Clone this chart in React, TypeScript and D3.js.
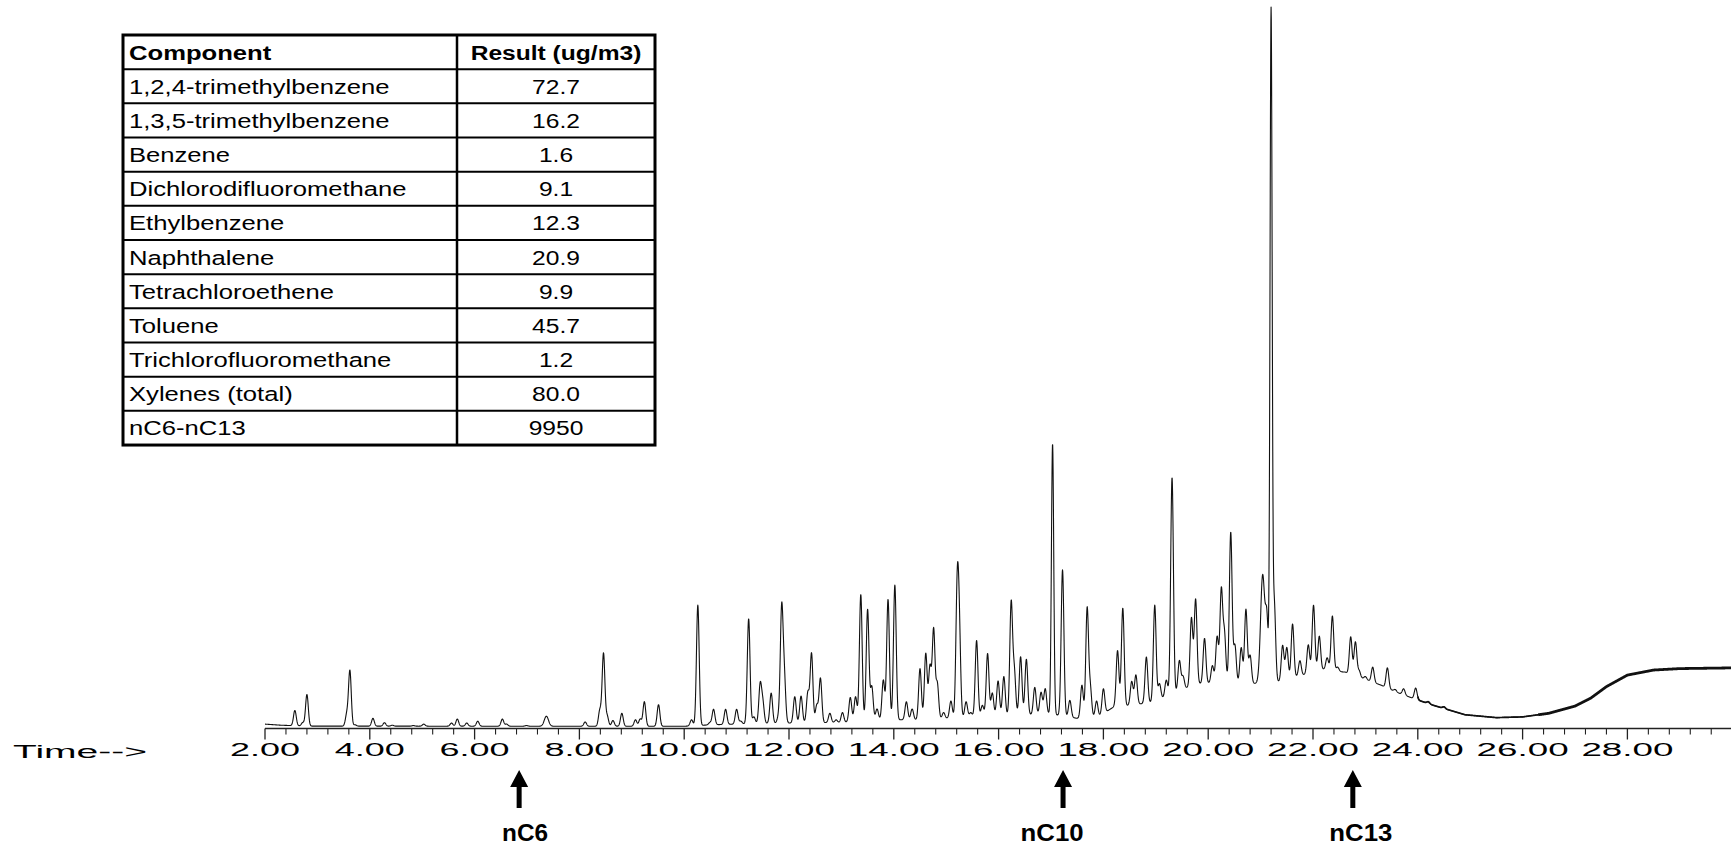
import React from 'react';
import * as d3 from 'd3';

// ---------- table data ----------
const tableHeader = ['Component', 'Result (ug/m3)'];
const components = [
  '1,2,4-trimethylbenzene',
  '1,3,5-trimethylbenzene',
  'Benzene',
  'Dichlorodifluoromethane',
  'Ethylbenzene',
  'Naphthalene',
  'Tetrachloroethene',
  'Toluene',
  'Trichlorofluoromethane',
  'Xylenes (total)',
  'nC6-nC13',
];
const results = ['72.7', '16.2', '1.6', '9.1', '12.3', '20.9', '9.9', '45.7', '1.2', '80.0', '9950'];

// ---------- axis ----------
const timeDomain = [2, 30];
const tickLabels = [2, 4, 6, 8, 10, 12, 14, 16, 18, 20, 22, 24, 26, 28];
const axisTitle = 'Time-->';

// ---------- alkane markers ----------
const markerLabels = ['nC6', 'nC10', 'nC13'];
const markerTimes = [6.85, 17.23, 22.76];

// ---------- chromatogram: background (time, abundance %) ----------
const baselineTimes = [2.0, 2.3, 2.8, 10.0, 10.5, 11.5, 12.5, 13.0, 13.5, 14.5, 15.0, 16.0, 17.0, 17.5, 17.9, 18.2, 18.5, 18.9, 19.2, 19.5, 19.8, 20.3, 20.8, 21.3, 21.7, 22.2, 22.6, 23.0, 23.3, 23.6, 23.9, 24.3, 24.9, 25.5, 26.0, 26.5, 27.0, 27.3, 27.6, 28.0, 28.5, 29.0, 30.0];
const baselineLevels = [0.4, 0.25, 0.12, 0.1, 0.3, 0.5, 0.6, 0.6, 1.0, 1.0, 1.2, 1.6, 1.8, 1.2, 1.4, 2.8, 3.0, 3.4, 4.2, 5.2, 6.0, 6.2, 6.0, 6.2, 7.0, 8.0, 7.6, 6.6, 5.8, 4.8, 4.0, 3.0, 1.7, 1.3, 1.4, 1.9, 2.9, 4.0, 5.6, 7.2, 7.9, 8.1, 8.2];

// ---------- chromatogram: peaks [time (min), apex abundance %, sigma (min)?] ----------
const earlyPeaks: number[][] = [
  [2.57, 2.3], [2.72, 0.6], [2.80, 4.5], [3.56, 1.7], [3.62, 7.8], [3.72, 0.3], [4.06, 1.2],
  [4.28, 0.6], [4.43, 0.25], [4.83, 0.2], [5.03, 0.4], [5.56, 0.55], [5.67, 1.1], [5.85, 0.55],
  [6.06, 0.8], [6.53, 1.1], [6.61, 0.4], [6.99, 0.2], [7.37, 1.5, 0.04], [8.11, 0.7], [8.39, 2.3],
  [8.46, 10.2], [8.53, 1.5], [8.64, 0.9], [8.81, 1.9], [9.07, 1.0], [9.16, 1.1], [9.24, 3.5], [9.51, 3.1],
];
const midPeaks: number[][] = [
  [10.14, 1.0], [10.26, 16.9], [10.49, 0.6], [10.56, 2.45], [10.79, 2.45], [11.00, 2.45], [11.08, 0.8],
  [11.23, 15.0], [11.33, 1.4], [11.45, 5.8], [11.50, 3.3], [11.66, 4.7], [11.80, 1.4], [11.86, 16.2],
  [11.91, 6.75], [12.11, 4.2], [12.23, 4.3], [12.36, 4.75], [12.43, 10.2], [12.53, 3.0], [12.60, 6.75],
  [12.78, 1.9], [12.90, 1.0], [13.02, 2.0], [13.17, 4.1], [13.27, 4.2], [13.37, 18.4], [13.50, 16.3],
  [13.58, 5.6], [13.68, 2.5], [13.80, 6.5], [13.89, 17.7], [14.02, 19.7], [14.24, 3.5], [14.35, 2.5],
  [14.50, 8.1], [14.61, 10.2], [14.69, 8.3], [14.76, 13.5], [14.83, 6.0], [14.95, 2.0], [15.09, 3.6],
  [15.21, 18.4], [15.25, 12.5], [15.38, 3.5], [15.47, 2.0], [15.58, 12.0], [15.69, 3.0], [15.79, 10.2],
  [15.88, 4.7], [15.99, 6.4], [16.10, 7.0], [16.24, 17.2], [16.30, 7.6], [16.42, 9.75], [16.53, 9.4],
  [16.69, 5.5], [16.81, 4.8], [16.89, 5.3], [17.03, 39.3, 0.022], [17.22, 21.8], [17.36, 3.7],
  [17.59, 5.8], [17.69, 16.4], [17.75, 5.3], [17.87, 3.6],
];
const latePeaks: number[][] = [
  [18.00, 5.3], [18.27, 10.6], [18.37, 16.5], [18.54, 6.3], [18.62, 7.2], [18.82, 9.7], [18.98, 16.9],
  [19.07, 6.0], [19.20, 6.5], [19.31, 34.6], [19.45, 9.2], [19.52, 7.0], [19.68, 15.1], [19.76, 17.7],
  [19.93, 12.3], [20.08, 8.5], [20.17, 12.5], [20.25, 18.9], [20.31, 12.8], [20.43, 27.0], [20.51, 11.3],
  [20.63, 11.0], [20.72, 16.3], [20.80, 9.9], [21.04, 21.1, 0.04], [21.12, 14.2], [21.20, 99.0, 0.02],
  [21.26, 17.3], [21.42, 11.3], [21.50, 11.0], [21.61, 14.3], [21.75, 9.2], [21.91, 11.4], [22.01, 16.9],
  [22.12, 12.6], [22.27, 9.6], [22.37, 15.4], [22.47, 8.3], [22.62, 7.6], [22.72, 12.5], [22.81, 11.8],
  [22.88, 7.8], [23.00, 7.0], [23.14, 8.3], [23.42, 8.2], [23.57, 5.2], [23.73, 5.3], [23.96, 5.4],
  [24.20, 3.5], [24.50, 2.8],
];

const W = 1731;
const H = 848;

export default function App() {
  // scales
  const x = d3.scaleLinear().domain(timeDomain).range([265, 265 + 28 * 52.4]);
  const y = d3.scaleLinear().domain([0, 100]).range([727, 6]);
  const base = d3.scaleLinear().domain(baselineTimes).range(baselineLevels).clamp(true);

  const peaks = [...earlyPeaks, ...midPeaks, ...latePeaks].map((p) => ({
    t: p[0],
    a: Math.max(0, p[1] - base(p[0])),
    s: p[2] ?? 0.026,
  }));
  const times = d3.range(timeDomain[0], timeDomain[1] + 1e-9, 0.004);
  const signal: [number, number][] = times.map((t) => {
    let v = base(t);
    for (const p of peaks) {
      const d = (t - p.t) / p.s;
      if (d > -7 && d < 7) v += p.a * Math.exp(-0.5 * d * d);
    }
    return [t, v];
  });
  const line = d3
    .line<[number, number]>()
    .x((d) => x(d[0]))
    .y((d) => y(d[1]));
  const tail1 = signal.filter((d) => d[0] >= 24.0 && d[0] <= 26.4);
  const tail2 = signal.filter((d) => d[0] >= 26.3);

  // axis ticks
  const axisY = 728.5;
  const majors = d3.range(2, 30.001, 2);
  const minors = d3.range(2, 30.001, 0.4).filter((t) => Math.abs(t / 2 - Math.round(t / 2)) > 0.01);
  const fmt = d3.format('.2f');

  // table geometry
  const tL = 123, tR = 655, tT = 35, rowH = 34.17, colX = 457;
  const nRows = components.length + 1;
  const tB = tT + rowH * nRows;
  const colC = (colX + tR) / 2;
  const font = "'Liberation Sans', Arial, sans-serif";

  return (
    <svg
      width={W}
      height={H}
      viewBox={`0 0 ${W} ${H}`}
      style={{ position: 'absolute', left: 0, top: 0, background: '#fff' }}
    >
      <rect x={0} y={0} width={W} height={H} fill="#fff" />

      {/* Table */}
      <g>
        {d3.range(1, nRows).map((i) => (
          <line key={'h' + i} x1={tL} x2={tR} y1={tT + i * rowH} y2={tT + i * rowH} stroke="#000" strokeWidth={2} />
        ))}
        <line x1={colX} x2={colX} y1={tT} y2={tB} stroke="#000" strokeWidth={2.5} />
        <rect x={tL} y={tT} width={tR - tL} height={tB - tT} fill="none" stroke="#000" strokeWidth={3} />
        <text
          transform={`translate(${tL + 6},${tT + rowH / 2 + 7.5}) scale(1.25,1)`}
          fontFamily={font}
          fontWeight="bold"
          fontSize={20.5}
          fill="#000"
        >
          {tableHeader[0]}
        </text>
        <text
          transform={`translate(${colC},${tT + rowH / 2 + 7.5}) scale(1.2,1)`}
          fontFamily={font}
          fontWeight="bold"
          fontSize={20.5}
          textAnchor="middle"
          fill="#000"
        >
          {tableHeader[1]}
        </text>
        {components.map((c, i) => (
          <g key={c}>
            <text
              transform={`translate(${tL + 6},${tT + (i + 1) * rowH + rowH / 2 + 7.5}) scale(1.25,1)`}
              fontFamily={font}
              fontSize={20.5}
              fill="#000"
            >
              {c}
            </text>
            <text
              transform={`translate(${colC},${tT + (i + 1) * rowH + rowH / 2 + 7.5}) scale(1.2,1)`}
              fontFamily={font}
              fontSize={20.5}
              textAnchor="middle"
              fill="#000"
            >
              {results[i]}
            </text>
          </g>
        ))}
      </g>

      {/* Chromatogram trace */}
      <path d={line(signal) ?? ''} fill="none" stroke="#111" strokeWidth={1.1} strokeLinejoin="round" />
      <path d={line(tail1) ?? ''} fill="none" stroke="#111" strokeWidth={1.7} />
      <path d={line(tail2) ?? ''} fill="none" stroke="#111" strokeWidth={2.8} />

      {/* Axis */}
      <line x1={x(2)} x2={W} y1={axisY} y2={axisY} stroke="#222" strokeWidth={1.3} />
      {majors.map((t) => (
        <line key={'M' + t} x1={x(t)} x2={x(t)} y1={axisY} y2={axisY + 11} stroke="#222" strokeWidth={1.3} />
      ))}
      {minors.map((t) => (
        <line key={'m' + t} x1={x(t)} x2={x(t)} y1={axisY} y2={axisY + 6} stroke="#222" strokeWidth={1.1} />
      ))}
      {tickLabels.map((t) => {
        const s = fmt(t);
        const digits = s.replace('.', '').length;
        return (
          <text
            key={'L' + t}
            x={x(t)}
            y={756}
            fontFamily={font}
            fontSize={18}
            textAnchor="middle"
            textLength={22 * digits + 4}
            lengthAdjust="spacingAndGlyphs"
            fill="#000"
          >
            {s}
          </text>
        );
      })}
      <text
        x={13}
        y={758}
        fontFamily={font}
        fontSize={18}
        textLength={134}
        lengthAdjust="spacingAndGlyphs"
        fill="#000"
      >
        {axisTitle}
      </text>

      {/* Alkane markers */}
      {markerLabels.map((lab, i) => {
        const cx = x(markerTimes[i]);
        const dx = [6, -11, 8][i];
        const pts = [
          [cx, 770],
          [cx - 9, 787],
          [cx - 2.5, 787],
          [cx - 2.5, 808],
          [cx + 2.5, 808],
          [cx + 2.5, 787],
          [cx + 9, 787],
        ];
        return (
          <g key={lab}>
            <polygon points={pts.map((p) => p.join(',')).join(' ')} fill="#000" />
            <text
              x={cx + dx}
              y={841}
              fontFamily="'Liberation Sans Narrow', 'Liberation Sans', Arial, sans-serif"
              fontWeight="bold"
              fontSize={24}
              textAnchor="middle"
              textLength={lab.length === 3 ? 46 : 63}
              lengthAdjust="spacingAndGlyphs"
              fill="#000"
            >
              {lab}
            </text>
          </g>
        );
      })}
    </svg>
  );
}
